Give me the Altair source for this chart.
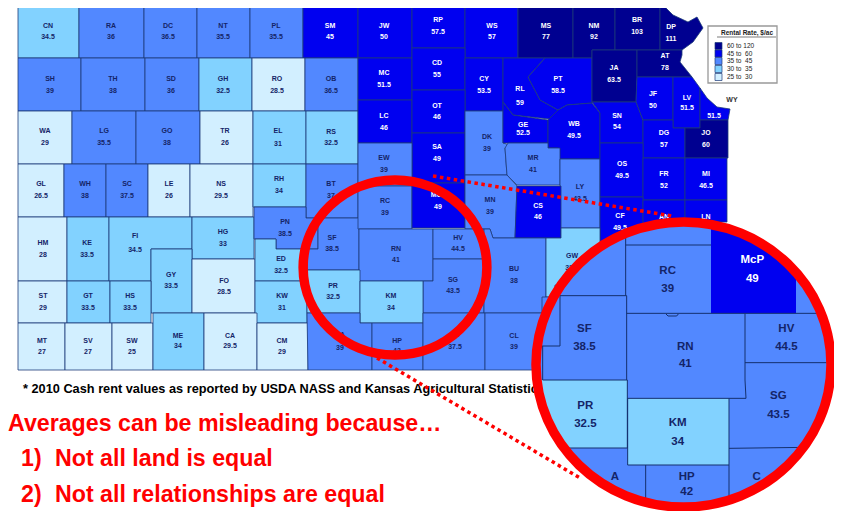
import altair as alt
import pandas as pd

def R(x0, y0, x1, y1):
    return [(x0, y0), (x1, y0), (x1, y1), (x0, y1)]

# ---- county rents (label text)
rent = {
 "CN":"34.5","RA":"36","DC":"36.5","NT":"35.5","PL":"35.5","SM":"45","JW":"50","RP":"57.5","WS":"57","MS":"77","NM":"92","BR":"103","DP":"111",
 "SH":"39","TH":"38","SD":"36","GH":"32.5","RO":"28.5","OB":"36.5","MC":"51.5","CD":"55","CY":"53.5","RL":"59","PT":"58.5","JA":"63.5","AT":"78",
 "WA":"29","LG":"35.5","GO":"38","TR":"26","EL":"31","RS":"32.5","LC":"46","OT":"46","SA":"49","DK":"39","GE":"52.5","WB":"49.5","SN":"54","JF":"50","LV":"51.5","WY":"51.5","DG":"57","JO":"60",
 "GL":"26.5","WH":"38","SC":"37.5","LE":"26","NS":"29.5","RH":"34","BT":"37","EW":"39","MR":"41","LY":"43.5","OS":"49.5","FR":"52","MI":"46.5",
 "HM":"28","KE":"33.5","FI":"34.5","HG":"33","PN":"38.5","SF":"38.5","RC":"39","McP":"49","MN":"39","CS":"46","CF":"49.5","AN":"47","LN":"46",
 "GY":"33.5","FO":"28.5","ED":"32.5","RN":"41","HV":"44.5","SG":"43.5","BU":"38","GW":"33.5",
 "ST":"29","GT":"33.5","HS":"33.5","KW":"31","PR":"32.5","KM":"34",
 "MT":"27","SV":"27","SW":"25","ME":"34","CA":"29.5","CM":"29","BA":"39","HP":"42","SU":"37.5","CL":"39",
}
# ---- unlabelled counties near the big circle
extra_rent = {"EK":"38","CQ":"38"}

outline = {
 "CN":R(18,5,79,58),"RA":R(79,5,144,58),"DC":R(144,5,197,58),"NT":R(197,5,250,58),"PL":R(250,5,303,58),
 "SM":R(303,5,358,58),"JW":R(358,5,412,58),"RP":R(412,5,465,48),"WS":R(465,5,518,58),"MS":R(518,5,573,58),
 "NM":[(573,5),(615,5),(615,50),(592,50),(592,58),(573,58)],"BR":R(615,5,660,50),
 "DP":[(660,5),(662,4),(673,15),(688,22),(697,17),(703,28),(693,42),(682,50),(660,50)],
 "SH":R(18,58,81,111),"TH":R(81,58,145,111),"SD":R(145,58,199,111),"GH":R(199,58,252,111),"RO":R(252,58,305,111),
 "OB":R(305,58,358,111),"MC":R(358,58,412,100),"CD":R(412,48,465,90),"CY":R(465,58,503,111),
 "RL":[(503,58),(545,58),(528,77),(540,100),(558,110),(558,120),(513,115),(503,102)],
 "PT":[(545,58),(592,58),(592,103),(567,105),(558,110),(540,100),(528,77)],
 "JA":[(592,50),(637,50),(637,78),(636,102),(592,102)],
 "AT":[(637,50),(682,50),(682,55),(680,62),(692,77),(637,77)],
 "WA":R(18,111,72,164),"LG":R(72,111,136,164),"GO":R(136,111,200,164),"TR":R(200,111,253,164),"EL":R(253,111,306,164),
 "RS":R(306,111,358,164),"LC":R(358,100,412,143),"OT":R(412,90,465,133),"SA":R(412,133,465,183),
 "DK":[(465,111),(503,111),(503,143),(510,145),(505,148),(507,175),(465,175)],
 "GE":[(503,102),(513,115),(548,120),(548,143),(503,143)],
 "WB":[(558,110),(567,105),(592,103),(600,113),(600,159),(558,159),(558,148),(548,148),(548,120)],
 "SN":[(592,102),(636,102),(643,120),(643,143),(600,143),(600,113)],
 "JF":[(637,77),(673,77),(673,120),(643,120),(636,102)],
 "LV":[(673,77),(692,77),(700,88),(700,128),(673,128)],
 "WY":[(700,88),(707,98),(717,107),(730,109),(728,120),(700,120)],
 "DG":[(643,120),(673,120),(673,128),(685,128),(685,158),(643,158)],
 "JO":[(685,128),(700,128),(700,120),(728,120),(728,158),(685,158)],
 "GL":R(18,164,64,217),"WH":R(64,164,106,217),"SC":R(106,164,148,217),"LE":R(148,164,190,217),"NS":R(190,164,253,217),
 "RH":R(253,164,306,207),"BT":R(306,164,358,218),"EW":R(358,143,412,186),
 "MR":[(505,148),(508,143),(548,143),(548,148),(560,148),(560,185),(517,185),(507,175)],
 "LY":R(560,159,600,228),"OS":R(600,143,643,197),"FR":R(643,158,685,200),"MI":R(685,158,727,200),
 "HM":R(18,217,67,281),"KE":R(67,217,109,281),
 "FI":[(109,217),(192,217),(192,249),(151,249),(151,281),(109,281)],
 "HG":R(192,217,254,259),
 "PN":[(254,207),(306,207),(306,218),(318,218),(318,249),(276,249),(276,239),(254,239)],
 "SF":[(318,218),(359,218),(359,270),(307,270),(307,249),(318,249)],
 "RC":R(358,186,412,229),"McP":R(412,183,465,228),
 "MN":[(465,175),(507,175),(517,186),(515,238),(493,238),(490,229),(465,229)],
 "CS":[(517,186),(561,186),(561,238),(515,238)],
 "CF":R(600,197,643,245),"AN":R(643,200,685,240),"LN":R(685,200,727,222),
 "GY":R(151,249,192,313),"FO":[(192,259),(255,259),(255,313),(192,313)],
 "ED":[(255,239),(276,239),(276,249),(307,249),(307,281),(255,281)],
 "RN":R(359,229,433,281),"HV":R(433,229,484,259),
 "SG":[(433,259),(484,259),(484,313),(423,313),(423,281),(433,281)],
 "BU":[(484,229),(490,229),(493,238),(546,238),(546,313),(484,313)],
 "GW":[(561,228),(600,228),(600,297),(546,297),(546,238),(561,238)],
 "ST":R(18,281,67,323),"GT":R(67,281,110,323),"HS":R(110,281,151,323),"KW":R(255,281,307,323),
 "PR":R(307,270,360,313),"KM":R(360,281,423,323),
 "MT":R(18,323,65,370),"SV":R(65,323,112,370),"SW":R(112,323,153,370),"ME":R(153,313,204,370),"CA":R(204,313,257,370),
 "CM":R(257,323,308,370),"BA":[(307,313),(360,313),(360,323),(372,323),(372,370),(308,370)],"HP":R(372,323,423,370),
 "SU":R(423,313,485,370),"CL":R(485,313,545,370),
 "EK":[(542,297),(555,297),(555,285),(580,285),(580,347),(542,347)],"CQ":R(543,347,580,370),
}

label_pos = {
 "CN":(48,26,37),"RA":(111,26,37),"DC":(168,26,37),"NT":(223,26,37),"PL":(276,26,37),"SM":(330,26,37),"JW":(384,26,37),"RP":(438,20,32),"WS":(492,26,37),"MS":(546,26,37),"NM":(594,26,37),"BR":(637,20,32),"DP":(671,27,39),
 "SH":(50,79,91),"TH":(113,79,91),"SD":(171,79,91),"GH":(223,79,91),"RO":(277,79,91),"OB":(331,79,91),"MC":(384,73,85),"CD":(437,63,75),"CY":(484,79,91),"RL":(520,89,103),"PT":(558,79,91),"JA":(614,68,80),"AT":(665,56,68),
 "WA":(45,131,143),"LG":(104,131,143),"GO":(167,131,143),"TR":(225,131,143),"EL":(278,131,144),"RS":(331,132,143),"LC":(384,116,128),"OT":(437,106,117),"SA":(437,147,159),"DK":(487,137,149),"GE":(523,125,133),"WB":(574,124,136),"SN":(617,116,127),"JF":(653,94,106),"LV":(687,98,108),"DG":(664,133,145),"JO":(706,133,145),
 "GL":(41,184,196),"WH":(85,184,196),"SC":(127,184,196),"LE":(169,184,196),"NS":(221,184,196),"RH":(279,179,191),"BT":(331,184,196),"EW":(384,158,170),"MR":(533,158,170),"LY":(580,187,199),"OS":(622,164,176),"FR":(664,174,186),"MI":(706,174,186),
 "HM":(43,243,255),"KE":(87,243,255),"FI":(135,236,250),"HG":(223,232,244),"PN":(285,222,234),"SF":(332,238,249),"RC":(385,201,213),"McP":(438,195,207),"MN":(490,200,212),"CS":(538,206,217),"CF":(620,216,228),"AN":(664,217,229),"LN":(706,217,229),
 "GY":(171,275,286),"FO":(224,281,292),"ED":(281,259,271),"RN":(396,249,260),"HV":(458,238,249),"SG":(453,280,291),"BU":(514,269,281),"GW":(572,256,268),
 "ST":(43,296,308),"GT":(88,296,308),"HS":(130,296,308),"KW":(282,296,308),"PR":(333,286,297),"KM":(391,296,308),
 "MT":(42,341,352),"SV":(88,341,352),"SW":(132,341,352),"ME":(178,336,346),"CA":(230,336,346),"CM":(282,341,352),"BA":(340,335,348),"HP":(397,341,351),"SU":(455,335,347),"CL":(514,336,347),
}
wy_value_pos = (714, 116)
state_tag = ("WY", 732, 100)

bin_edges = [30, 35, 45, 60]
bin_colors = ["#d2efff", "#82d2ff", "#5288ff", "#0000f0", "#000090"]

legend_title = "Rental Rate, $/ac"
legend_labels = ["60 to 120", "45 to \u00a060", "35 to \u00a045", "30 to \u00a035", "25 to \u00a030"]
legend_reps = [80, 50, 40, 32, 27]
legend_rows = [46, 53.5, 61, 69, 77]

footnote = "* 2010 Cash rent values as reported by USDA NASS and Kansas Agricultural Statistics"
red_lines = ["Averages can be misleading because…", "1)", "Not all land is equal", "2)", "Not all relationships are equal"]
red_x = [8, 21, 55, 21, 55]
red_y = [431, 466, 466, 502, 502]

# ---- magnified view, in coordinates of the inset (3x enlargement)
def Z(p):
    return (530 + p[0] / 3, 210 + p[1] / 3)

zoom_rent = {"RC":("39",413,182,238,"d"),"McP":("49",667,150,207,"w"),"SF":("38.5",163,357,412,"d"),"RN":("41",466,410,463,"d"),
             "HV":("44.5",769,357,412,"d"),"SG":("43.5",745,558,615,"d"),"PR":("32.5",166,588,643,"d"),"KM":("34",443,638,695,"d"),"HP":("42",470,800,845,"d")}
zoom_bits = [("A",255,800),("C",680,800)]
zoom_fill = {
 "McP":[(543,37),(610,52),(670,81),(740,126),(798,182),(798,310),(543,310)],
 "PR":[(25,510),(292,510),(292,714),(95,714),(65,660),(42,600)],
 "KM":[(293,565),(597,565),(597,765),(293,765)],
}
zoom_segments = [
 (287,60,287,257),(287,105,543,105),(290,257,90,257),(90,257,90,408),(90,408,25,408),(290,257,290,510),(38,408,38,510),(38,510,292,510),
 (290,310,865,310),(645,310,645,510),(645,510,648,565),(648,565,293,565),(293,565,293,765),(293,714,103,714),(292,510,292,714),
 (645,458,890,458),(597,565,597,880),(597,715,830,712),(293,765,597,765),(347,765,347,880),(408,312,414,318),(414,318,440,318),(440,318,445,312),
]

small_ring = (395, 267.5)
big_ring = (683.5, 364.5)
dotted = [(433,176,672,216),(377,358,580,478)]

# ---- tables
xs = alt.Scale(domain=[8, 834], range=[0, 826], nice=False, zero=False)
ys = alt.Scale(domain=[8, 511], range=[0, 503], nice=False, zero=False)
X = lambda f="x": alt.X(f"{f}:Q", scale=xs, axis=None)
Y = lambda f="y": alt.Y(f"{f}:Q", scale=ys, axis=None)
colour = alt.Scale(type="threshold", domain=bin_edges, range=bin_colors)

all_rent = {**rent, **extra_rent}
features = []
for k, pts in outline.items():
    ring = [list(p) for p in pts] + [list(pts[0])]
    features.append({"type": "Feature", "properties": {"name": k, "rent": float(all_rent[k])},
                     "geometry": {"type": "Polygon", "coordinates": [ring]}})
zfeatures = []
for k, pts in zoom_fill.items():
    ring = [list(Z(p)) for p in pts]
    ring.append(ring[0])
    zfeatures.append({"type": "Feature", "properties": {"name": k, "rent": float(rent[k])},
                      "geometry": {"type": "Polygon", "coordinates": [ring]}})
proj = dict(type="identity", scale=1, translate=[-8, -8])

counties = alt.Chart(alt.Data(values=features)).mark_geoshape(stroke="#1c3a78", strokeWidth=0.8).encode(
    color=alt.Color("properties.rent:Q", scale=colour, legend=None)).project(**proj)

rows = []
for k, (lx, y1, y2) in label_pos.items():
    tone = "w" if float(rent[k]) >= 45 else "d"
    rows.append(dict(x=lx, y=y1, t=k, c=tone))
    rows.append(dict(x=lx, y=y2, t=rent[k], c=tone))
rows.append(dict(x=wy_value_pos[0], y=wy_value_pos[1], t=rent["WY"], c="w"))
rows.append(dict(x=state_tag[1], y=state_tag[2], t=state_tag[0], c="g"))
tones = alt.Scale(domain=["d", "w", "g"], range=["#142468", "#ffffff", "#333333"])
small_text = alt.Chart(pd.DataFrame(rows)).mark_text(font="Liberation Sans", fontSize=7, fontWeight="bold", baseline="middle", align="center").encode(
    x=X(), y=Y(), text="t:N", color=alt.Color("c:N", scale=tones, legend=None))

foot = alt.Chart(pd.DataFrame([dict(x=23, y=393, t=footnote)])).mark_text(font="Liberation Sans", fontSize=12.75, fontWeight="bold", align="left", baseline="alphabetic", color="#000000").encode(
    x=X(), y=Y(), text="t:N")
red = alt.Chart(pd.DataFrame(dict(x=red_x, y=red_y, t=red_lines))).mark_text(font="Liberation Sans", fontSize=23.2, fontWeight="bold", align="left", baseline="alphabetic", color="#ff0000").encode(
    x=X(), y=Y(), text="t:N")

dots = alt.Chart(pd.DataFrame(dotted, columns=["x", "y", "x2", "y2"])).mark_rule(color="#ff0000", strokeWidth=3.5, strokeDash=[3.5, 3.5]).encode(
    x=X(), y=Y(), x2="x2:Q", y2="y2:Q")

small_shape = "M-1.05,0A1.05,1 0 1,0 1.05,0A1.05,1 0 1,0 -1.05,0Z"
big_shape = "M-1.0351,0A1.0351,1 0 1,0 1.0351,0A1.0351,1 0 1,0 -1.0351,0Z"
ring1 = alt.Chart(pd.DataFrame([dict(x=small_ring[0], y=small_ring[1])])).mark_point(shape=small_shape, size=175 ** 2, filled=False, fillOpacity=0, stroke="#ff0000", strokeWidth=9.5, opacity=1).encode(x=X(), y=Y())
disc = alt.Chart(pd.DataFrame([dict(x=big_ring[0], y=big_ring[1])])).mark_point(shape=big_shape, size=285 ** 2, filled=True, fill="#5288ff", opacity=1).encode(x=X(), y=Y())
ring2 = alt.Chart(pd.DataFrame([dict(x=big_ring[0], y=big_ring[1])])).mark_point(shape=big_shape, size=285 ** 2, filled=False, fillOpacity=0, stroke="#ff0000", strokeWidth=9.5, opacity=1).encode(x=X(), y=Y())

zpoly = alt.Chart(alt.Data(values=zfeatures)).mark_geoshape(strokeWidth=0).encode(
    color=alt.Color("properties.rent:Q", scale=colour, legend=None)).project(**proj)
seg_rows = []
for a, b, c, d in zoom_segments:
    p, q = Z((a, b)), Z((c, d))
    seg_rows.append(dict(x=p[0], y=p[1], x2=q[0], y2=q[1]))
zseg = alt.Chart(pd.DataFrame(seg_rows)).mark_rule(color="#14306e", strokeWidth=1).encode(x=X(), y=Y(), x2="x2:Q", y2="y2:Q")

zrows = []
for k, (v, zx, zy1, zy2, tone) in zoom_rent.items():
    zrows.append(dict(x=Z((zx, 0))[0], y=Z((0, zy1))[1], t=k, c=tone))
    zrows.append(dict(x=Z((zx, 0))[0], y=Z((0, zy2))[1], t=v, c=tone))
for t, zx, zy in zoom_bits:
    zrows.append(dict(x=Z((zx, 0))[0], y=Z((0, zy))[1], t=t, c="d"))
ztext = alt.Chart(pd.DataFrame(zrows)).mark_text(font="Liberation Sans", fontSize=11.5, fontWeight="bold", baseline="middle", align="center").encode(
    x=X(), y=Y(), text="t:N", color=alt.Color("c:N", scale=tones, legend=None))

# legend
lbox = alt.Chart(pd.DataFrame([dict(x=708, x2=777, y=26, y2=83)])).mark_rect(fill="#ffffff", stroke="#999999", strokeWidth=1.3).encode(
    x=X(), x2="x2:Q", y=Y(), y2="y2:Q")
ltitle = alt.Chart(pd.DataFrame([dict(x=747, y=33, t=legend_title)])).mark_text(font="Liberation Sans", fontSize=6.5, fontWeight="bold", align="center", baseline="middle", color="#222222").encode(
    x=X(), y=Y(), text="t:N")
lunder = alt.Chart(pd.DataFrame([dict(x=717, x2=776, y=37)])).mark_rule(color="#444444", strokeWidth=0.7).encode(x=X(), x2="x2:Q", y=Y())
lsw = alt.Chart(pd.DataFrame(dict(x=[715] * 5, x2=[722] * 5, y=[r - 3.5 for r in legend_rows], y2=[r + 3.5 for r in legend_rows], v=legend_reps))).mark_rect(stroke="#1c3a78", strokeWidth=0.7).encode(
    x=X(), x2="x2:Q", y=Y(), y2="y2:Q", color=alt.Color("v:Q", scale=colour, legend=None))
ltxt = alt.Chart(pd.DataFrame(dict(x=[727] * 5, y=legend_rows, t=legend_labels))).mark_text(font="Liberation Sans", fontSize=6.5, align="left", baseline="middle", color="#222222").encode(
    x=X(), y=Y(), text="t:N")

chart = alt.layer(
    counties, small_text, lbox, ltitle, lunder, lsw, ltxt, foot, red, dots, ring1, disc, zpoly, zseg, ztext, ring2
).resolve_scale(color="independent").properties(
    width=826, height=503, padding=0, autosize=alt.AutoSizeParams(type="none")
).configure_view(stroke=None)

chart.save("out.html", embed_options={"renderer": "svg", "actions": False})
